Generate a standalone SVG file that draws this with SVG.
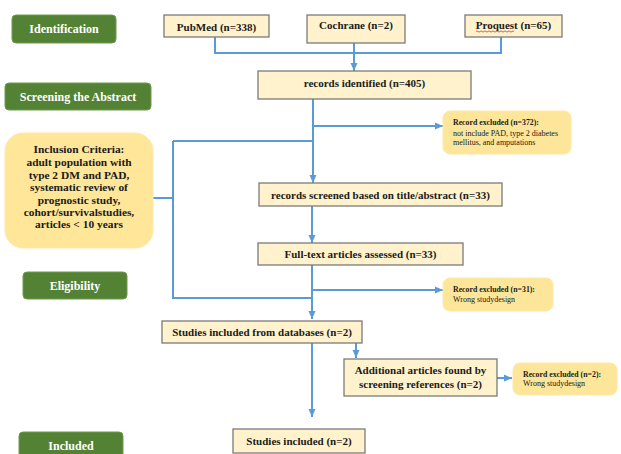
<svg xmlns="http://www.w3.org/2000/svg" width="621" height="454" viewBox="0 0 621 454">
<defs>
<marker id="ah" markerUnits="userSpaceOnUse" markerWidth="8" markerHeight="8" viewBox="0 0 8 8" refX="8" refY="4" orient="auto">
<path d="M0,0.5 L8,4 L0,7.5 Z" fill="#5b9bd5"/>
</marker>
<style>
.stage{fill:#548235;stroke:#6e9a4e;stroke-width:1}
.stxt{font-family:"Liberation Serif","Times New Roman",serif;font-weight:bold;font-size:12px;fill:#ffffff;text-anchor:middle}
.box{fill:#fff2cc;stroke:#7a7a7a;stroke-width:1.3}
.btxt{font-family:"Liberation Serif","Times New Roman",serif;font-weight:bold;font-size:11px;fill:#1a1a1a;text-anchor:middle}
.exc{fill:#fde699;stroke:#fde9a6;stroke-width:1}
.etb{font-family:"Liberation Serif","Times New Roman",serif;font-weight:bold;font-size:7.8px;fill:#1a1a1a}
.etr{font-family:"Liberation Serif","Times New Roman",serif;font-size:8px;fill:#1a1a1a}
.inc{fill:#ffe699;stroke:#ffe9a8;stroke-width:1}
.itxt{font-family:"Liberation Serif","Times New Roman",serif;font-weight:bold;font-size:11.4px;fill:#1a1a1a;text-anchor:middle}
.c{fill:none;stroke:#5b9bd5;stroke-width:2}
.ca{fill:none;stroke:#5b9bd5;stroke-width:2;marker-end:url(#ah)}
</style>
</defs>

<g id="stage-identification"><rect class="stage" x="12" y="15" width="104" height="28" rx="4"/><text class="stxt" x="64" y="32.5">Identification</text></g>
<g id="stage-screening"><rect class="stage" x="5" y="83" width="146" height="27" rx="4"/><text class="stxt" x="78" y="101">Screening the Abstract</text></g>
<g id="stage-eligibility"><rect class="stage" x="23" y="272" width="104" height="27" rx="4"/><text class="stxt" x="75" y="290">Eligibility</text></g>
<g id="stage-included"><rect class="stage" x="19" y="432" width="104" height="30" rx="4"/><text class="stxt" x="71" y="450">Included</text></g>

<g id="connectors">
<path class="c" d="M215,37 V53 H501 V37"/>
<path class="ca" d="M354,43 V71"/>
<path class="ca" d="M313,99 V183"/>
<path class="ca" d="M313,126 H443"/>
<path class="c" d="M153,198 H173 M173,141 H313 M173,141 V298 H313"/>
<path class="ca" d="M312,206 V243"/>
<path class="ca" d="M312,265 V319"/>
<path class="ca" d="M312,290 H443"/>
<path class="ca" d="M312,343 V417"/>
<path class="ca" d="M356,343 V358"/>
<path class="ca" d="M497,378 H512"/>
</g>

<g id="node-pubmed"><rect class="box" x="164" y="15" width="105" height="22"/><text class="btxt" x="216.5" y="31">PubMed (n=338)</text></g>
<g id="node-cochrane"><rect class="box" x="307" y="15" width="98" height="28"/><text class="btxt" x="356" y="29">Cochrane (n=2)</text></g>
<g id="node-proquest"><rect class="box" x="465" y="15" width="97" height="22"/><text class="btxt" x="513.5" y="29">Proquest (n=65)</text><path d="M476,31.5 q1,-1.2 2,0 t2,0 t2,0 t2,0 t2,0 t2,0 t2,0 t2,0 t2,0 t2,0 t2,0 t2,0 t2,0 t2,0 t2,0 t2,0 t2,0 t2,0 t2,0" fill="none" stroke="#d33" stroke-width="0.8"/></g>
<g id="node-records-identified"><rect class="box" x="258" y="71" width="213" height="28"/><text class="btxt" x="364.5" y="86.5">records identified (n=405)</text></g>
<g id="node-excluded-1"><rect class="exc" x="443" y="111" width="128" height="43" rx="7"/><text class="etb" x="453" y="125">Record excluded (n=372):</text><text class="etr" x="453" y="135.5">not include PAD, type 2 diabetes</text><text class="etr" x="453" y="144.5">mellitus, and amputations</text></g>
<g id="node-inclusion"><rect class="inc" x="5" y="133" width="148" height="115" rx="18"/>
<text class="itxt" x="79" y="153">Inclusion Criteria:</text>
<text class="itxt" x="79" y="166">adult population with</text>
<text class="itxt" x="79" y="178.5">type 2 DM and PAD,</text>
<text class="itxt" x="79" y="191">systematic review of</text>
<text class="itxt" x="79" y="203.5">prognostic study,</text>
<text class="itxt" x="79" y="215.5">cohort/survivalstudies,</text>
<text class="itxt" x="79" y="228">articles &lt; 10 years</text></g>
<g id="node-records-screened"><rect class="box" x="259" y="183" width="243" height="23"/><text class="btxt" x="380.5" y="198.5">records screened based on title/abstract (n=33)</text></g>
<g id="node-fulltext"><rect class="box" x="258" y="243" width="205" height="22"/><text class="btxt" x="360.5" y="258">Full-text articles assessed (n=33)</text></g>
<g id="node-excluded-2"><rect class="exc" x="443" y="278" width="110" height="33" rx="7"/><text class="etb" x="453" y="292">Record excluded (n=31):</text><text class="etr" x="453" y="302">Wrong studydesign</text></g>
<g id="node-studies-databases"><rect class="box" x="162" y="321" width="200" height="22"/><text class="btxt" x="262" y="336">Studies included from databases (n=2)</text></g>
<g id="node-additional"><rect class="box" x="344" y="359" width="153" height="37"/><text class="btxt" x="420.5" y="374">Additional articles found by</text><text class="btxt" x="420.5" y="387.5">screening references (n=2)</text></g>
<g id="node-excluded-3"><rect class="exc" x="513" y="363" width="104" height="32" rx="7"/><text class="etb" x="523" y="377">Record excluded (n=2):</text><text class="etr" x="523" y="386">Wrong studydesign</text></g>
<g id="node-studies-included"><rect class="box" x="233" y="429" width="132" height="24"/><text class="btxt" x="299" y="445">Studies included (n=2)</text></g>
</svg>
